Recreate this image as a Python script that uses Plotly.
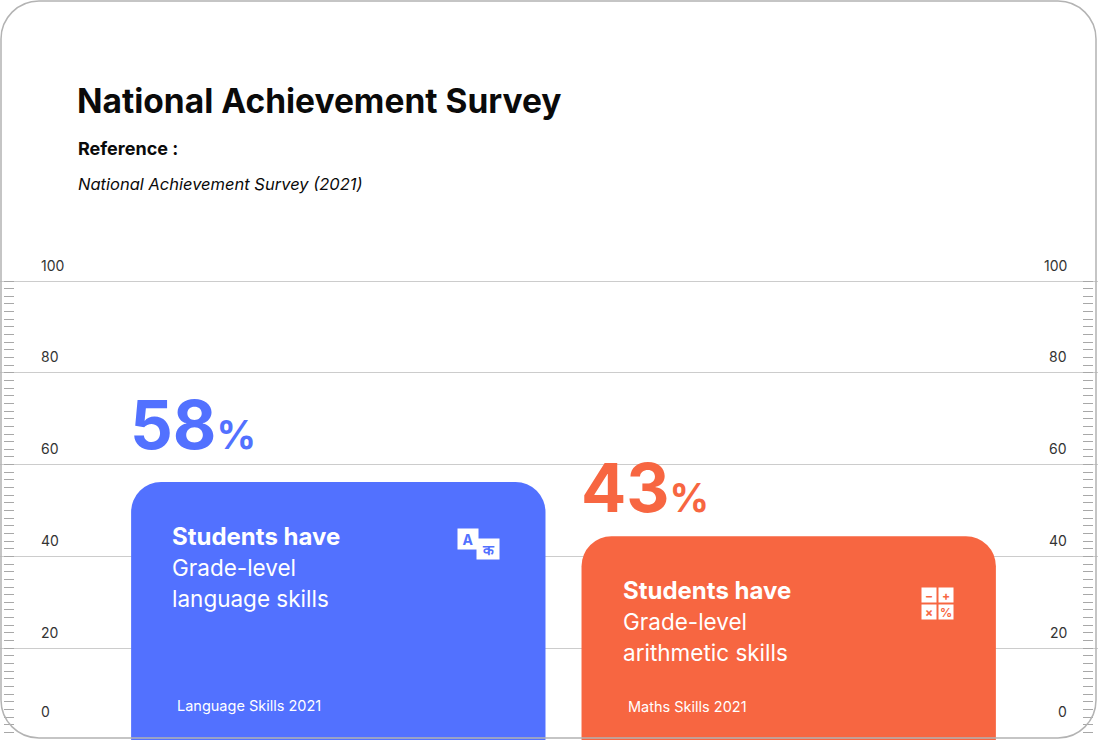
import plotly.graph_objects as go

categories = ["Language Skills 2021", "Maths Skills 2021"]
percent = [58, 43]             # headline numbers
bar_heights = [56.2, 44.4]     # drawn height of the cards on the 0-100 scale
headline = ["Students have", "Students have"]
detail = [["Grade-level", "language skills"], ["Grade-level", "arithmetic skills"]]
tick_vals = [0, 20, 40, 60, 80, 100]
tick_text = ["0", "20", "40", "60", "80", "100"]
calc_symbols = ["−", "+", "×", "%"]

BLUE = "#5271FF"
ORANGE = "#F76641"
colors = [BLUE, ORANGE]
FONT = "Inter"
W, H = 1098, 740
TOP = 278                      # top margin in px
PLOT_H = H - TOP
PX_PER_UNIT = 4.59
BAR_W = 0.92

fig = go.Figure()
fig.add_trace(go.Bar(
    x=categories, y=bar_heights, width=BAR_W,
    marker=dict(color=colors, line_width=0),
    hoverinfo="skip", showlegend=False,
))
# empty trace so the right-hand ruler axis gets drawn
fig.add_trace(go.Scatter(x=[], y=[], yaxis="y2", showlegend=False))

y_top = PLOT_H / PX_PER_UNIT
ruler = dict(
    range=[0, y_top], tickvals=tick_vals, showticklabels=False,
    ticks="inside", ticklen=10, tickcolor="#a8a8a8", tickwidth=1,
    minor=dict(dtick=20 / 12, tick0=0, ticks="inside", ticklen=10,
               tickcolor="#a8a8a8", tickwidth=1, showgrid=False),
    zeroline=False, showline=False, fixedrange=True,
)

fig.update_layout(
    width=W, height=H,
    margin=dict(l=0, r=0, t=TOP, b=0),
    paper_bgcolor="white", plot_bgcolor="white",
    barcornerradius=30,
    font=dict(family=FONT, color="#222"),
    xaxis=dict(range=[-0.7511, 1.6867], visible=False, fixedrange=True),
    yaxis=dict(**ruler, showgrid=True, gridcolor="#cccccc", gridwidth=1,
               anchor="free", position=0.003),
    yaxis2=dict(**ruler, showgrid=False, overlaying="y", side="right",
                anchor="free", position=0.9955),
)


def py(p):
    """pixel row from the top of the page -> paper y"""
    return (H - p) / PLOT_H


ann = []
# header texts
ann.append(dict(text="<b>National Achievement Survey</b>", x=0, xshift=75, y=py(101),
                font=dict(size=33.5, color="#0a0a0a")))
ann.append(dict(text="<b>Reference :</b>", x=0, xshift=76, y=py(148),
                font=dict(size=18, color="#0a0a0a")))
ann.append(dict(text="<i>National Achievement Survey (2021)</i>", x=0, xshift=76, y=py(184),
                font=dict(size=16.5, color="#0a0a0a")))
for a in ann:
    a.update(xref="paper", yref="paper", xanchor="left", yanchor="middle", showarrow=False)

# axis labels on both sides (the 0 label sits a bit higher, above the card edge)
for v, t in zip(tick_vals, tick_text):
    lift = 29 if v == 0 else 16
    ann.append(dict(text=t, xref="paper", x=0, xshift=39, xanchor="left",
                    yref="y", y=v, yshift=lift, yanchor="middle", showarrow=False,
                    font=dict(size=14, color="#333")))
    ann.append(dict(text=t, xref="paper", x=1, xshift=-29, xanchor="right",
                    yref="y", y=v, yshift=lift, yanchor="middle", showarrow=False,
                    font=dict(size=14, color="#333")))

pct_lift = [7, 13]
for i, cat in enumerate(categories):
    left = i - BAR_W / 2
    c = colors[i]
    # big percentage
    ann.append(dict(
        text=f"<b><span style='font-size:67px'>{percent[i]}</span>"
             f"<span style='font-size:39px'>%</span></b>",
        xref="x", x=left, xshift=-3, xanchor="left",
        yref="y", y=percent[i], yshift=pct_lift[i], yanchor="bottom",
        showarrow=False, font=dict(color=c, size=67)))
    # card text
    ann.append(dict(
        text=f"<b>{headline[i]}</b><br>"
             + "<br>".join(f"<span style='font-size:22.5px'>{d}</span>" for d in detail[i]),
        xref="x", x=left, xshift=39, xanchor="left",
        yref="y", y=bar_heights[i], yshift=-38, yanchor="top", align="left",
        showarrow=False, font=dict(color="white", size=24)))
    # bottom label
    ann.append(dict(
        text=cat, xref="x", x=left, xshift=44, xanchor="left",
        yref="y", y=0, yshift=34, yanchor="middle",
        showarrow=False, font=dict(color="white", size=14.5)))

# translate icon on the language card
ann.append(dict(text="<b>A</b>", xref="x", x=0 + BAR_W / 2, xshift=-77,
                yref="y", y=bar_heights[0], yshift=-57, showarrow=False,
                bgcolor="white", width=18, height=18, borderpad=1,
                font=dict(color=BLUE, size=14)))
ann.append(dict(text="<b>क</b>", xref="x", x=0 + BAR_W / 2, xshift=-57,
                yref="y", y=bar_heights[0], yshift=-67, showarrow=False,
                bgcolor="white", width=20, height=18, borderpad=1,
                font=dict(color=BLUE, size=14)))

# calculator icon on the maths card
offs = [(-66.5, -58.5), (-49.5, -58.5), (-66.5, -75.5), (-49.5, -75.5)]
for s, (dx, dy) in zip(calc_symbols, offs):
    ann.append(dict(text=f"<b>{s}</b>", xref="x", x=1 + BAR_W / 2, xshift=dx,
                    yref="y", y=bar_heights[1], yshift=dy, showarrow=False,
                    bgcolor="white", width=14, height=14, borderpad=0,
                    font=dict(color=ORANGE, size=12)))

fig.update_layout(annotations=ann)

# rounded card outline (pixel units from the bottom-left of the plot area)
r, k = 38, 21
x0, x1, y0, y1 = 1, W - 2, 2, H - 1
path = (f"M {x0 + r},{y0} L {x1 - r},{y0} C {x1 - r + k},{y0} {x1},{y0 + r - k} {x1},{y0 + r} "
        f"L {x1},{y1 - r} C {x1},{y1 - r + k} {x1 - r + k},{y1} {x1 - r},{y1} "
        f"L {x0 + r},{y1} C {x0 + r - k},{y1} {x0},{y1 - r + k} {x0},{y1 - r} "
        f"L {x0},{y0 + r} C {x0},{y0 + r - k} {x0 + r - k},{y0} {x0 + r},{y0} Z")
fig.add_shape(type="path", xref="paper", yref="paper", xsizemode="pixel", ysizemode="pixel",
              xanchor=0, yanchor=0, path=path, line=dict(color="#b3b3b3", width=1.5),
              fillcolor="rgba(0,0,0,0)", layer="above")

fig.write_html("out.html", config={"displayModeBar": False},
               post_script="document.body.style.margin='0';")
